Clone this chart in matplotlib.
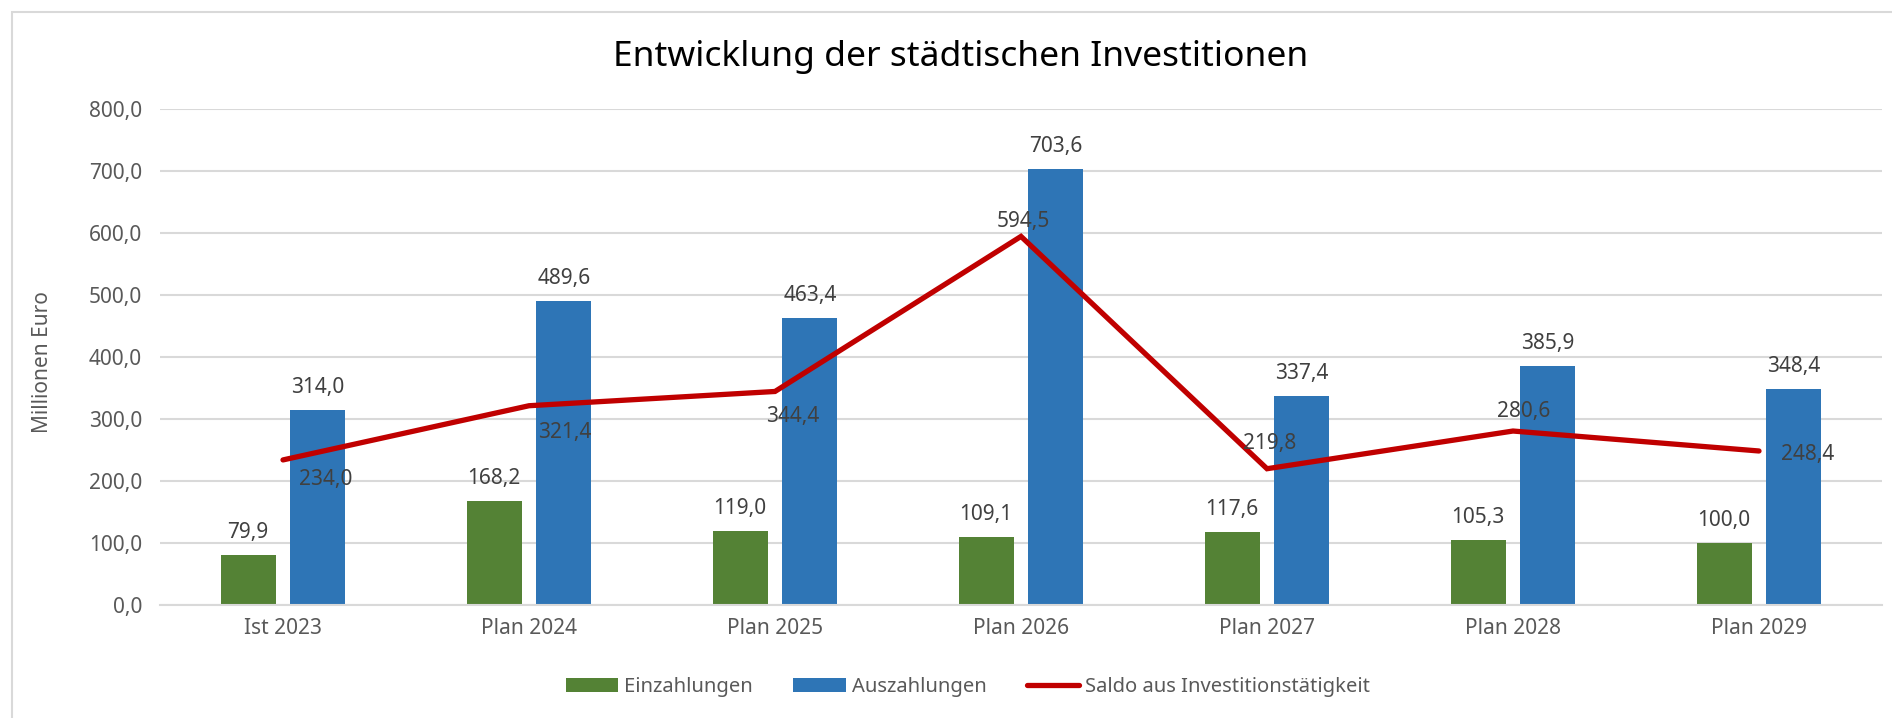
import numpy as np
import matplotlib.pyplot as plt
from matplotlib.patches import Rectangle

plt.rcParams['font.family'] = ['Noto Sans', 'DejaVu Sans']

# Daten (Millionen Euro)
kategorien = ["Ist 2023", "Plan 2024", "Plan 2025", "Plan 2026", "Plan 2027", "Plan 2028", "Plan 2029"]
einzahlungen = [79.9, 168.2, 119.0, 109.1, 117.6, 105.3, 100.0]
auszahlungen = [314.0, 489.6, 463.4, 703.6, 337.4, 385.9, 348.4]
saldo = [234.0, 321.4, 344.4, 594.5, 219.8, 280.6, 248.4]
y_ticks = [0, 100, 200, 300, 400, 500, 600, 700, 800]

# Versatz der Saldo-Beschriftungen (Pixel)
saldo_offsets = [(43, -25), (36, -32), (18, -31), (2, 9), (3, 20), (11, 14), (49, -9)]

gruen = "#548235"
blau = "#2E75B6"
rot = "#C00000"
grid = "#D9D9D9"
txt = "#595959"
lbl = "#404040"


def fmt(v):
    return f"{v:.1f}".replace(".", ",")


fig = plt.figure(figsize=(18.92, 7.18), dpi=100)
ax = fig.add_axes([160 / 1892, 113 / 718, 1722 / 1892, 496 / 718])

# Rahmen
fig.patches.append(Rectangle((12 / 1892, -0.1), 1.2, 1.1 - 12 / 718, transform=fig.transFigure,
                             fill=False, edgecolor=grid, linewidth=1.5))

x = np.arange(len(kategorien))
bw = 0.224
off = 0.142
b1 = ax.bar(x - off, einzahlungen, bw, color=gruen, label="Einzahlungen", zorder=2)
b2 = ax.bar(x + off, auszahlungen, bw, color=blau, label="Auszahlungen", zorder=2)
ln, = ax.plot(x, saldo, color=rot, linewidth=3.8, solid_capstyle="round", solid_joinstyle="miter",
              label="Saldo aus Investitionstätigkeit", zorder=3)

for xi, v in zip(x - off, einzahlungen):
    ax.annotate(fmt(v), (xi, v), xytext=(0, 17), textcoords="offset pixels",
                ha="center", va="baseline", fontsize=15, color=lbl, zorder=4)
for xi, v in zip(x + off, auszahlungen):
    ax.annotate(fmt(v), (xi, v), xytext=(0, 17), textcoords="offset pixels",
                ha="center", va="baseline", fontsize=15, color=lbl, zorder=4)
for xi, v, (dx, dy) in zip(x, saldo, saldo_offsets):
    ax.annotate(fmt(v), (xi, v), xytext=(dx, dy), textcoords="offset pixels",
                ha="center", va="baseline", fontsize=15, color=lbl, zorder=4)

ax.set_xlim(-0.5, len(kategorien) - 0.5)
ax.set_ylim(0, 800)
ax.set_yticks(y_ticks)
ax.set_yticklabels([fmt(t) for t in y_ticks])
ax.set_xticks(x)
ax.set_xticklabels(kategorien)
ax.tick_params(axis="both", length=0, labelsize=15, labelcolor=txt)
ax.tick_params(axis="y", pad=13)
ax.tick_params(axis="x", pad=9)
ax.grid(axis="y", color=grid, linewidth=1.5, zorder=0)
ax.set_axisbelow(True)
for s in ["top", "right", "left"]:
    ax.spines[s].set_visible(False)
ax.spines["bottom"].set_color(grid)
ax.spines["bottom"].set_linewidth(1.5)

ax.set_ylabel("Millionen Euro", fontsize=15, color=txt)
ax.yaxis.set_label_coords(-0.062, 0.49)

fig.text(961 / 1892, 1 - 57 / 718, "Entwicklung der städtischen Investitionen",
         ha="center", va="center", fontsize=25.5, color="black")

leg = fig.legend(handles=[b1, b2, ln], loc="center", bbox_to_anchor=(968 / 1892, 31 / 718), ncol=3,
                 frameon=False, fontsize=14.5, handlelength=2.6, handleheight=0.7, handletextpad=0.3,
                 columnspacing=2.0, labelcolor=txt)

fig.savefig("out.png", dpi=100)
